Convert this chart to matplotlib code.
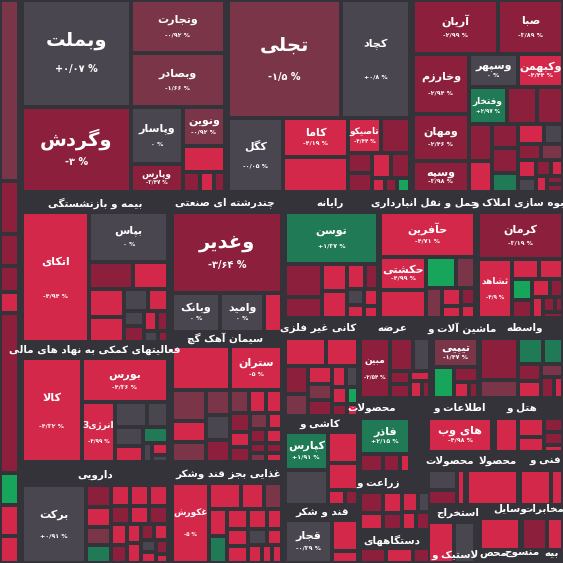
import matplotlib
matplotlib.use('Agg')
import matplotlib.pyplot as plt
from matplotlib.patches import Rectangle

# colours of the map
R = '#d4284a'   # strong drop
D = '#8c1f3c'   # dark red
P = '#7a3549'   # plum
G = '#4a4650'   # no change
E = '#1f7a55'   # dark green
B = '#16a55a'   # bright green
BG = '#35333a'

# ---- data: (name, percent, value, colour) per industry group ----
edge = [('', '', 170, P), ('', '', 50, D), ('', '', 30, D), ('', '', 25, D), ('', '', 20, R),
        ('', '', 150, D), ('', '', 30, B), ('', '', 30, R), ('', '', 25, R)]
bank = [('وبملت', '+۰/۰۷ %', 10500, G), ('وگردش', '-۳ %', 8400, D),
        ('وتجارت', '-۰/۹۲ %', 4560, P), ('وبصادر', '-۱/۶۶ %', 4560, P),
        ('وپاسار', '۰ %', 2700, G), ('وپارس', '-۳/۴۷ %', 1320, D), ('ونوین', '-۰/۹۲ %', 1500, P),
        ('', '', 1000, R), ('', '', 300, D), ('', '', 250, R), ('', '', 200, D)]
metal = [('تجلی', '-۱/۵ %', 11500, P), ('کچاد', '+۰/۸ %', 7000, G), ('کگل', '-۰/۰۵ %', 3500, G),
         ('کاما', '-۴/۱۹ %', 2200, R), ('', '', 2000, R), ('تاصیکو', '-۴/۴۴ %', 1000, R),
         ('', '', 900, D), ('', '', 400, D), ('', '', 400, D), ('', '', 400, R), ('', '', 400, D),
         ('', '', 150, R), ('', '', 150, D), ('', '', 150, B)]
invest = [('آریان', '-۲/۹۹ %', 3700, D), ('صبا', '-۳/۸۹ %', 2800, D), ('وخارزم', '-۲/۹۴ %', 2700, D),
          ('ومهان', '-۲/۴۶ %', 2100, D), ('وسپه', '-۳/۹۸ %', 1400, D), ('وسپهر', '۰ %', 1300, G),
          ('وکبهمن', '-۴/۴۴ %', 1200, R), ('وفتخار', '+۲/۹۷ %', 1150, E),
          ('', '', 900, D), ('', '', 800, D), ('', '', 700, D), ('', '', 600, R), ('', '', 500, D),
          ('', '', 500, D), ('', '', 400, E), ('', '', 400, R), ('', '', 300, G), ('', '', 300, D),
          ('', '', 300, P), ('', '', 250, R), ('', '', 200, G), ('', '', 200, D), ('', '', 150, R),
          ('', '', 150, R), ('', '', 100, D), ('', '', 100, D)]
bimeh = [('اتکای', '-۴/۹۴ %', 8200, R), ('بپاس', '۰ %', 3650, G), ('', '', 1100, D), ('', '', 900, R),
         ('', '', 900, R), ('', '', 800, R), ('', '', 500, G), ('', '', 400, R), ('', '', 300, G),
         ('', '', 300, D), ('', '', 250, R), ('', '', 200, D), ('', '', 150, G), ('', '', 100, D)]
multi = [('وغدیر', '-۳/۶۴ %', 7600, D), ('وبانک', '۰ %', 1600, G), ('وامید', '۰ %', 1450, G),
         ('', '', 600, R)]
rayaneh = [('توسن', '+۱/۳۷ %', 4400, E), ('', '', 1100, D), ('', '', 700, D), ('', '', 600, R),
           ('', '', 600, R), ('', '', 400, R), ('', '', 300, D), ('', '', 250, G), ('', '', 200, R),
           ('', '', 200, R), ('', '', 150, R)]
haml = [('حآفرین', '-۴/۷۱ %', 3600, R), ('حکشتی', '-۴/۹۹ %', 1300, R), ('', '', 1100, R),
        ('', '', 800, B), ('', '', 500, P), ('', '', 400, P), ('', '', 300, R), ('', '', 200, R),
        ('', '', 200, D), ('', '', 150, R)]
anbooh = [('کرمان', '-۳/۱۹ %', 3400, D), ('ثشاهد', '-۴/۹ %', 1700, R), ('', '', 450, R),
          ('', '', 400, R), ('', '', 350, B), ('', '', 300, D), ('', '', 300, R), ('', '', 200, D),
          ('', '', 200, R), ('', '', 150, D), ('', '', 100, D), ('', '', 100, D)]
faaliat = [('کالا', '-۴/۳۲ %', 5400, R), ('بورس', '-۴/۳۶ %', 3300, R), ('انرژی3', '-۴/۹۹ %', 1700, R),
           ('', '', 700, G), ('', '', 450, G), ('', '', 450, G), ('', '', 400, R), ('', '', 350, E),
           ('', '', 150, G), ('', '', 150, R), ('', '', 100, G)]
daru = [('برکت', '+۰/۹۱ %', 4400, G), ('', '', 500, D), ('', '', 450, R), ('', '', 400, P),
        ('', '', 400, E), ('', '', 350, R), ('', '', 350, R), ('', '', 350, R), ('', '', 300, D),
        ('', '', 300, R), ('', '', 300, D), ('', '', 300, R), ('', '', 250, D), ('', '', 250, R),
        ('', '', 250, R), ('', '', 200, D), ('', '', 200, R), ('', '', 150, G), ('', '', 150, R),
        ('', '', 150, D), ('', '', 100, R)]
siman = [('', '', 1700, R), ('ستران', '-۵ %', 1500, R), ('', '', 700, P), ('', '', 450, R),
         ('', '', 450, P), ('', '', 400, P), ('', '', 400, G), ('', '', 350, D), ('', '', 300, P),
         ('', '', 250, R), ('', '', 250, R), ('', '', 250, D), ('', '', 200, R), ('', '', 200, D),
         ('', '', 200, P), ('', '', 150, R), ('', '', 150, D), ('', '', 150, R), ('', '', 100, D),
         ('', '', 100, P), ('', '', 100, D), ('', '', 100, R)]
ghazaei = [('غکورش', '-۵ %', 2500, R), ('', '', 700, R), ('', '', 500, R), ('', '', 400, P),
           ('', '', 400, R), ('', '', 400, E), ('', '', 350, R), ('', '', 300, R), ('', '', 300, R),
           ('', '', 300, R), ('', '', 250, R), ('', '', 250, G), ('', '', 200, R), ('', '', 200, R),
           ('', '', 150, R), ('', '', 150, R)]
kani = [('', '', 900, R), ('', '', 700, R), ('', '', 500, D), ('', '', 400, P), ('', '', 350, R),
        ('', '', 300, P), ('', '', 300, D), ('', '', 250, R), ('', '', 200, G), ('', '', 200, R),
        ('', '', 150, B), ('', '', 150, D), ('', '', 100, R)]
arzeh = [('مبین', '-۲/۵۴ %', 1300, D), ('', '', 550, D), ('', '', 400, G), ('', '', 200, D),
         ('', '', 200, D), ('', '', 150, R), ('', '', 150, R), ('', '', 100, D)]
mashin = [('تیپیی', '-۱/۴۷ %', 1400, P), ('', '', 700, B), ('', '', 400, D), ('', '', 250, R),
          ('', '', 150, D)]
vaseteh = [('', '', 1200, D), ('', '', 500, P), ('', '', 500, E), ('', '', 400, E), ('', '', 300, D),
           ('', '', 300, R), ('', '', 200, P), ('', '', 200, D), ('', '', 150, R)]
kashi = [('کپارس', '+۱/۹۱ %', 1200, E), ('', '', 1100, G), ('', '', 700, R), ('', '', 600, R),
         ('', '', 200, R), ('', '', 150, D)]
mahsoolat = [('فاذر', '+۲/۱۵ %', 1500, E), ('', '', 350, D), ('', '', 250, D), ('', '', 150, R)]
etelaat = [('های وب', '-۴/۹۸ %', 1700, R)]
hotel = [('', '', 600, R), ('', '', 400, R), ('', '', 300, R), ('', '', 200, D), ('', '', 200, D),
         ('', '', 100, R)]
zeraat = [('', '', 300, D), ('', '', 250, R), ('', '', 250, R), ('', '', 200, D), ('', '', 200, R),
          ('', '', 150, G), ('', '', 150, R), ('', '', 150, D)]
dastgah = [('', '', 300, D), ('', '', 300, R), ('', '', 200, D)]
mahsoolat2 = [('', '', 400, G), ('', '', 300, D), ('', '', 200, R)]
mahsoolat3 = [('', '', 500, R)]
fanni = [('', '', 500, R), ('', '', 200, R)]
estekhraj = [('', '', 500, R), ('', '', 400, G)]
vasayel = [('', '', 500, R)]
mokhaberat = [('', '', 300, D), ('', '', 200, R)]
ghand = [('قجار', '-۰/۳۹ %', 1300, G), ('', '', 500, R), ('', '', 200, R)]

# ---- layout of the group containers: (stocks, box x0,y0,x1,y1, header, header x, header y) ----
groups = [
    (edge, (0, 0, 19, 563), None, 0, 0),
    (bank, (22, 0, 225, 192), None, 0, 0),
    (metal, (228, 0, 410, 192), None, 0, 0),
    (invest, (413, 0, 563, 192), None, 0, 0),
    (bimeh, (22, 212, 168, 342), 'بیمه و بازنشستگی', 95, 203),
    (multi, (172, 212, 282, 332), 'چندرشته ای صنعتی', 225, 203),
    (rayaneh, (285, 212, 378, 318), 'رایانه', 330, 203),
    (haml, (380, 212, 475, 318), 'حمل و نقل انبارداری', 425, 203),
    (anbooh, (478, 212, 563, 318), 'انبوه سازی املاک و', 522, 203),
    (faaliat, (22, 358, 168, 462), 'فعالیتهای کمکی به نهاد های مالی', 95, 350),
    (daru, (22, 485, 168, 563), 'دارویی', 95, 475),
    (siman, (172, 346, 282, 462), 'سیمان آهک گچ', 225, 338),
    (ghazaei, (172, 483, 282, 563), 'غذایی بجز قند وشکر', 228, 474),
    (kani, (285, 338, 358, 416), 'کانی غیر فلزی', 318, 328),
    (arzeh, (360, 338, 430, 398), 'عرضه', 392, 328),
    (mashin, (433, 338, 478, 398), 'ماشین آلات و', 462, 328),
    (vaseteh, (480, 338, 563, 398), 'واسطه', 525, 328),
    (kashi, (285, 432, 358, 505), 'کاشی و', 320, 424),
    (mahsoolat, (360, 418, 410, 472), 'محصولات', 372, 408),
    (etelaat, (428, 418, 492, 452), 'اطلاعات و', 460, 408),
    (hotel, (495, 418, 563, 452), 'هتل و', 522, 408),
    (zeraat, (360, 492, 430, 530), 'زراعت و', 378, 483),
    (dastgah, (360, 548, 430, 563), 'دستگاههای', 392, 540),
    (mahsoolat2, (428, 470, 465, 505), 'محصولات', 450, 461),
    (mahsoolat3, (467, 470, 518, 505), 'محصولا', 498, 461),
    (fanni, (520, 470, 563, 505), 'فنی و', 545, 461),
    (estekhraj, (428, 522, 475, 563), 'استخراج', 458, 513),
    (vasayel, (480, 518, 520, 550), 'وسایل', 510, 509),
    (mokhaberat, (522, 518, 563, 550), 'مخابرات', 543, 509),
    (ghand, (285, 520, 358, 563), 'قند و شکر', 322, 512),
]
bottom_headers = [('لاستیک و', 455, 555), ('محص', 493, 553), ('منسوج', 522, 553), ('بیه', 552, 553)]

# ---- minimal Persian shaping (matplotlib draws glyphs left to right, unjoined) ----
FORMS = {
    'ا': (0xFE8D, 0xFE8E), 'آ': (0xFE81, 0xFE82), 'ب': (0xFE8F, 0xFE90, 0xFE91, 0xFE92),
    'ت': (0xFE95, 0xFE96, 0xFE97, 0xFE98), 'ث': (0xFE99, 0xFE9A, 0xFE9B, 0xFE9C),
    'ج': (0xFE9D, 0xFE9E, 0xFE9F, 0xFEA0), 'ح': (0xFEA1, 0xFEA2, 0xFEA3, 0xFEA4),
    'خ': (0xFEA5, 0xFEA6, 0xFEA7, 0xFEA8), 'د': (0xFEA9, 0xFEAA), 'ذ': (0xFEAB, 0xFEAC),
    'ر': (0xFEAD, 0xFEAE), 'ز': (0xFEAF, 0xFEB0), 'ژ': (0xFB8A, 0xFB8B),
    'س': (0xFEB1, 0xFEB2, 0xFEB3, 0xFEB4), 'ش': (0xFEB5, 0xFEB6, 0xFEB7, 0xFEB8),
    'ص': (0xFEB9, 0xFEBA, 0xFEBB, 0xFEBC), 'ض': (0xFEBD, 0xFEBE, 0xFEBF, 0xFEC0),
    'ط': (0xFEC1, 0xFEC2, 0xFEC3, 0xFEC4), 'ظ': (0xFEC5, 0xFEC6, 0xFEC7, 0xFEC8),
    'ع': (0xFEC9, 0xFECA, 0xFECB, 0xFECC), 'غ': (0xFECD, 0xFECE, 0xFECF, 0xFED0),
    'ف': (0xFED1, 0xFED2, 0xFED3, 0xFED4), 'ق': (0xFED5, 0xFED6, 0xFED7, 0xFED8),
    'ک': (0xFB8E, 0xFB8F, 0xFB90, 0xFB91), 'گ': (0xFB92, 0xFB93, 0xFB94, 0xFB95),
    'ل': (0xFEDD, 0xFEDE, 0xFEDF, 0xFEE0), 'م': (0xFEE1, 0xFEE2, 0xFEE3, 0xFEE4),
    'ن': (0xFEE5, 0xFEE6, 0xFEE7, 0xFEE8), 'ه': (0xFEE9, 0xFEEA, 0xFEEB, 0xFEEC),
    'و': (0xFEED, 0xFEEE), 'ی': (0xFBFC, 0xFBFD, 0xFBFE, 0xFBFF),
    'پ': (0xFB56, 0xFB57, 0xFB58, 0xFB59), 'چ': (0xFB7A, 0xFB7B, 0xFB7C, 0xFB7D),
}


def shape(s):
    out = []
    i = 0
    while i < len(s):
        c = s[i]
        prev = s[i - 1] if i > 0 else ''
        nxt = s[i + 1] if i + 1 < len(s) else ''
        jp = prev in FORMS and len(FORMS[prev]) == 4
        if c not in FORMS:
            out.append(c)
            i += 1
            continue
        if c == 'ل' and nxt in ('ا', 'آ'):
            base = 0xFEFB if nxt == 'ا' else 0xFEF5
            out.append(chr(base + (1 if jp else 0)))
            i += 2
            continue
        f = FORMS[c]
        jn = len(f) == 4 and nxt in FORMS
        if jp and jn:
            out.append(chr(f[3]))
        elif jp:
            out.append(chr(f[1]))
        elif jn:
            out.append(chr(f[2]))
        else:
            out.append(chr(f[0]))
        i += 1
    return ''.join(reversed(out))


def worst(row, side):
    s = sum(row)
    return max(max(side * side * r / (s * s), s * s / (side * side * r)) for r in row)


def squarify(vals, x, y, w, h):
    scale = w * h / sum(vals)
    vals = [v * scale for v in vals]
    rects = []
    while vals:
        side = min(w, h)
        row = [vals[0]]
        i = 1
        while i < len(vals) and worst(row + [vals[i]], side) <= worst(row, side):
            row.append(vals[i])
            i += 1
        s = sum(row)
        if w >= h:
            cw = s / h
            yy = y
            for r in row:
                rects.append((x, yy, cw, r / cw))
                yy += r / cw
            x += cw
            w -= cw
        else:
            rh = s / w
            xx = x
            for r in row:
                rects.append((xx, y, r / rh, rh))
                xx += r / rh
            y += rh
            h -= rh
        vals = vals[i:]
    return rects


fig = plt.figure(figsize=(5.63, 5.63), dpi=100)
fig.patch.set_facecolor(BG)
ax = fig.add_axes([0, 0, 1, 1])
ax.set_facecolor(BG)
ax.set_xlim(0, 563)
ax.set_ylim(563, 0)
ax.axis('off')

FONT = 'DejaVu Sans'
gap = 2
for stocks, (x0, y0, x1, y1), header, hx, hy in groups:
    rects = squarify([s[2] for s in stocks], x0, y0, x1 - x0, y1 - y0)
    for (name, pct, val, col), (x, y, w, h) in zip(stocks, rects):
        ax.add_patch(Rectangle((x + gap, y + gap), w - 2 * gap, h - 2 * gap,
                               facecolor=col, edgecolor='none'))
        if not name or w < 26 or h < 22:
            continue
        if w >= 90 and h >= 70:
            fs, ps = 14, 7
        elif w >= 40 and h >= 28:
            fs, ps = 8, 4.5
        else:
            fs, ps = 6.5, 4
        cx, cy = x + w / 2, y + h / 2
        ax.text(cx, cy - h * 0.12, shape(name), color='white', fontsize=fs, fontweight='bold',
                ha='center', va='center', family=FONT)
        ax.text(cx, cy + h * 0.15, pct, color='white', fontsize=ps, fontweight='bold',
                ha='center', va='center', family=FONT)
    if header:
        ax.text(hx, hy, shape(header), color='white', fontsize=7.5, fontweight='bold',
                ha='center', va='center', family=FONT)

for text, hx, hy in bottom_headers:
    ax.text(hx, hy, shape(text), color='white', fontsize=7.5, fontweight='bold',
            ha='center', va='center', family=FONT)

fig.savefig('out.png', dpi=100, facecolor=BG)
